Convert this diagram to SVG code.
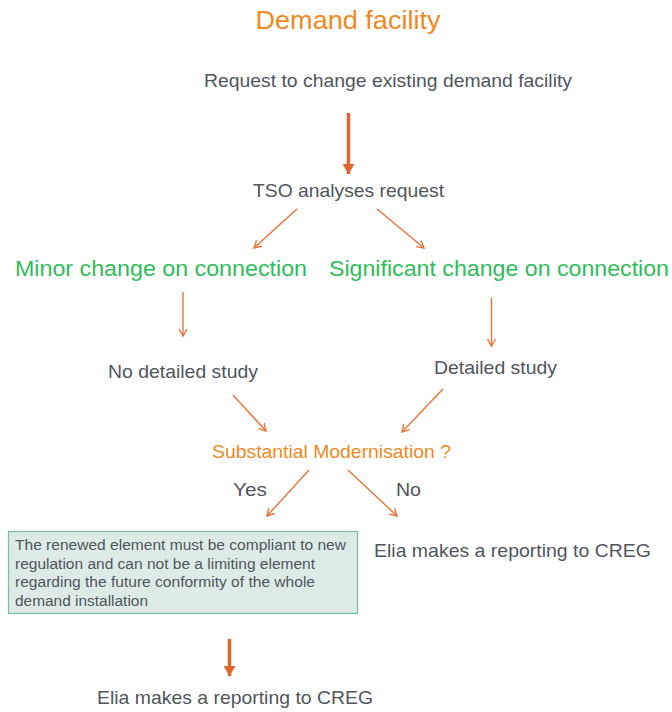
<svg xmlns="http://www.w3.org/2000/svg" width="672" height="712" viewBox="0 0 672 712">
<defs>
<style>
text{font-family:"Liberation Sans",Arial,sans-serif}
.t{fill:#50565C;font-size:19px}
.g{fill:#2EBD59;font-size:22px}
.o{fill:#F0891E}
.thin{stroke:#E8743B;stroke-width:1.4;fill:none}
.thick{stroke:#E0652A;stroke-width:3.5;fill:none}
.box{fill:#DDEBE7;stroke:#7EBEA8;stroke-width:1.3}
.bt{fill:#50565C;font-size:14px}
</style>
<marker id="ah" markerWidth="10" markerHeight="10" refX="8" refY="5" orient="auto" markerUnits="userSpaceOnUse">
<path d="M1,1 L8,5 L1,9" fill="none" stroke="#E8743B" stroke-width="1.4"/>
</marker>
<marker id="ahT" markerWidth="12" markerHeight="12" refX="10" refY="6" orient="auto" markerUnits="userSpaceOnUse">
<path d="M0,0 L10,6 L0,12 Z" fill="#E0652A"/>
</marker>
</defs>
<rect width="672" height="712" fill="#FFFFFF"/>
<g id="title"><text class="o" x="348" y="29" font-size="26.5" text-anchor="middle" textLength="185" lengthAdjust="spacingAndGlyphs">Demand facility</text></g>
<g id="request"><text class="t" x="388" y="87" text-anchor="middle" textLength="368" lengthAdjust="spacingAndGlyphs">Request to change existing demand facility</text></g>
<g id="tso"><text class="t" x="348.5" y="197" text-anchor="middle" textLength="191" lengthAdjust="spacingAndGlyphs">TSO analyses request</text></g>
<g id="minor"><text class="g" x="161" y="276" text-anchor="middle" textLength="292" lengthAdjust="spacingAndGlyphs">Minor change on connection</text></g>
<g id="significant"><text class="g" x="499" y="276" text-anchor="middle" textLength="340" lengthAdjust="spacingAndGlyphs">Significant change on connection</text></g>
<g id="nodetailed"><text class="t" x="183" y="378" text-anchor="middle" textLength="150" lengthAdjust="spacingAndGlyphs">No detailed study</text></g>
<g id="detailed"><text class="t" x="495.5" y="374" text-anchor="middle" textLength="123" lengthAdjust="spacingAndGlyphs">Detailed study</text></g>
<g id="substantial"><text class="o" x="331.5" y="458" font-size="19" text-anchor="middle" textLength="239" lengthAdjust="spacingAndGlyphs">Substantial Modernisation ?</text></g>
<g id="yes"><text class="t" x="250" y="496" text-anchor="middle" textLength="34" lengthAdjust="spacingAndGlyphs">Yes</text></g>
<g id="no"><text class="t" x="408.5" y="496" text-anchor="middle" textLength="25" lengthAdjust="spacingAndGlyphs">No</text></g>
<g id="renewed">
<rect class="box" x="8.5" y="531.5" width="349" height="82"/>
<text class="bt" x="15" y="550" textLength="331" lengthAdjust="spacingAndGlyphs">The renewed element must be compliant to new</text>
<text class="bt" x="15" y="569" textLength="300" lengthAdjust="spacingAndGlyphs">regulation and can not be a limiting element</text>
<text class="bt" x="15" y="587" textLength="300" lengthAdjust="spacingAndGlyphs">regarding the future conformity of the whole</text>
<text class="bt" x="15" y="606" textLength="133" lengthAdjust="spacingAndGlyphs">demand installation</text>
</g>
<g id="eliaNo"><text class="t" x="512.5" y="557" text-anchor="middle" textLength="277" lengthAdjust="spacingAndGlyphs">Elia makes a reporting to CREG</text></g>
<g id="eliaYes"><text class="t" x="235" y="704" text-anchor="middle" textLength="276" lengthAdjust="spacingAndGlyphs">Elia makes a reporting to CREG</text></g>
<g id="connectors">
<line class="thick" x1="348.5" y1="113" x2="348.5" y2="174" marker-end="url(#ahT)"/>
<line class="thin" x1="297" y1="209" x2="254" y2="248" marker-end="url(#ah)"/>
<line class="thin" x1="377" y1="209" x2="424" y2="248" marker-end="url(#ah)"/>
<line class="thin" x1="183" y1="292" x2="183" y2="336" marker-end="url(#ah)"/>
<line class="thin" x1="491.5" y1="298" x2="491.5" y2="346" marker-end="url(#ah)"/>
<line class="thin" x1="233" y1="395" x2="266" y2="431" marker-end="url(#ah)"/>
<line class="thin" x1="443" y1="389" x2="402" y2="432" marker-end="url(#ah)"/>
<line class="thin" x1="309" y1="470" x2="267" y2="516" marker-end="url(#ah)"/>
<line class="thin" x1="348" y1="470" x2="397" y2="516" marker-end="url(#ah)"/>
<line class="thick" x1="229.5" y1="639" x2="229.5" y2="676" marker-end="url(#ahT)"/>
</g>
</svg>
